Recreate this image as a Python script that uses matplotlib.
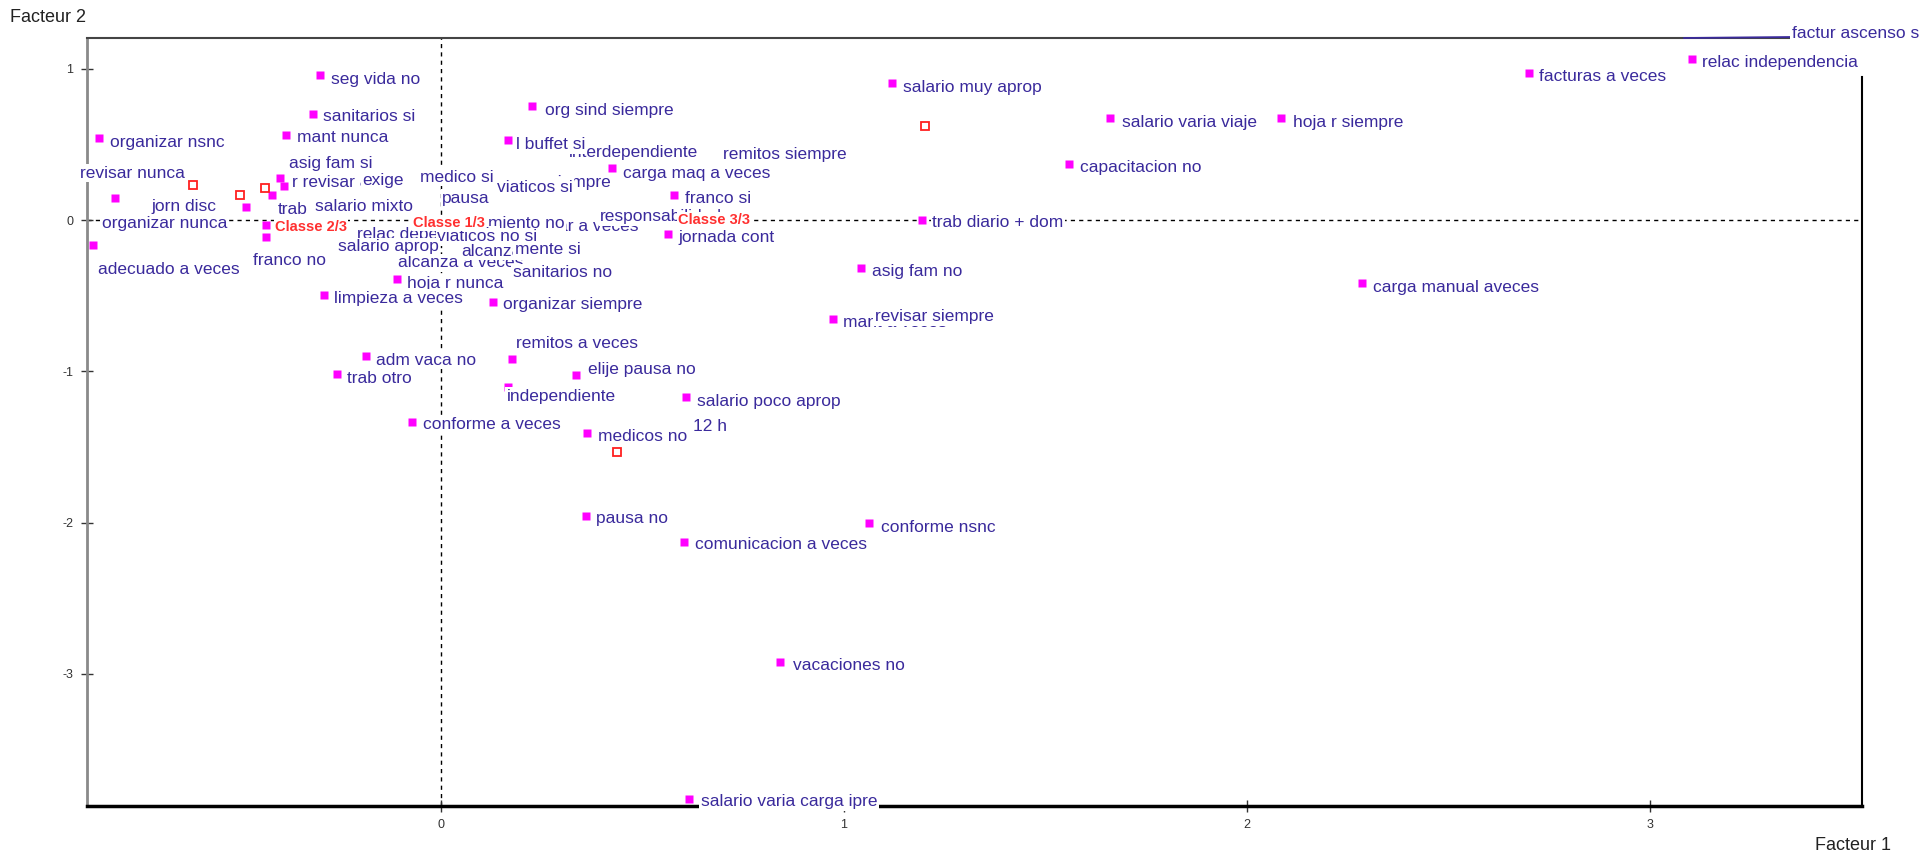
import matplotlib.pyplot as plt

plt.rcParams['font.family'] = ['Liberation Sans', 'DejaVu Sans']

# --- factor coordinates of the modalities ---
labels = ['seg vida no', 'sanitarios si', 'mant nunca', 'organizar nsnc', 'revisar nunca',
          'jorn disc', 'organizar nunca', 'adecuado a veces', 'franco no', 'asig fam si',
          'r revisar a', 'trab', 'salario mixto', 'exige', 'medico si', 'pausa', 'siempre',
          'viaticos si', 'carga maq a veces', 'interdependiente', 'remitos siempre',
          'l buffet si', 'org sind siempre', 'franco si', 'jornada cont', 'ar a veces',
          'responsabilidad', 'miento no', 'alcanza a veces', 'relac dependencia',
          'viaticos no si', 'salario aprop', 'alcanza', 'mente si', 'sanitarios no',
          'hoja r nunca', 'limpieza a veces', 'organizar siempre', 'mant a veces',
          'revisar siempre', 'adm vaca no', 'trab otro', 'remitos a veces', 'independiente',
          'elije pausa no', 'conforme a veces', '12 h', 'medicos no', 'salario poco aprop',
          'pausa no', 'comunicacion a veces', 'conforme nsnc', 'vacaciones no',
          'salario varia carga ipre', 'salario muy aprop', 'salario varia viaje',
          'hoja r siempre', 'capacitacion no', 'trab diario + dom', 'asig fam no',
          'carga manual aveces', 'facturas a veces', 'relac independencia']
facteur1 = [-0.299, -0.316, -0.383, -0.847, -0.808, -0.483, -0.433, -0.862, -0.433, -0.398,
            -0.388, -0.418, -0.262, -0.145, -0.001, 0.053, 0.319, 0.190, 0.425, 0.368,
            0.750, 0.167, 0.227, 0.579, 0.564, 0.341, 0.445, 0.167, -0.056, -0.158,
            0.041, -0.205, 0.102, 0.234, 0.229, -0.108, -0.288, 0.129, 0.974, 1.127,
            -0.185, -0.257, 0.177, 0.167, 0.335, -0.072, 0.675, 0.363, 0.608, 0.361,
            0.605, 1.064, 0.841, 0.616, 1.120, 1.661, 2.084, 1.559, 1.194, 1.043,
            2.285, 2.700, 3.104]
facteur2 = [0.958, 0.701, 0.562, 0.542, 0.145, 0.086, -0.033, -0.165, -0.112, 0.278,
            0.225, 0.165, 0.086, 0.264, 0.284, 0.145, 0.245, 0.218, 0.343, 0.449,
            0.436, 0.529, 0.753, 0.165, -0.093, -0.040, 0.020, -0.020, -0.284, -0.099,
            -0.112, -0.178, -0.205, -0.198, -0.350, -0.390, -0.496, -0.542, -0.654, -0.641,
            -0.899, -1.018, -0.919, -1.104, -1.024, -1.335, -1.368, -1.408, -1.170, -1.956,
            -2.126, -2.005, -2.919, -3.827, 0.905, 0.674, 0.674, 0.370, 0.0, -0.317,
            -0.418, 0.970, 1.062]

# supplementary points (red hollow squares)
sup_f1 = [-0.614, -0.497, -0.436, 1.202, 0.438]
sup_f2 = [0.231, 0.165, 0.211, 0.621, -1.533]

# class centres
classes = ['Classe 1/3', 'Classe 2/3', 'Classe 3/3']
class_f1 = [-0.068, -0.411, 0.589]
class_f2 = [-0.020, -0.046, 0.0]

# point outside the frame, shown with a leader line
out_label = 'factur ascenso si'
out_f1, out_f2 = 3.084, 1.203

# label placement (pixels: right, down); default is (10, 4)
offsets = {
    'seg vida no': (11, 4), 'sanitarios si': (10, 3), 'mant nunca': (11, 3),
    'organizar nsnc': (11, 4), 'revisar nunca': (-35, -25), 'jorn disc': (-94, 0),
    'organizar nunca': (-164, -1), 'adecuado a veces': (5, 25), 'franco no': (-13, 24),
    'asig fam si': (9, -14), 'r revisar a': (8, -3), 'trab': (6, 14),
    'carga maq a veces': (11, 5), 'l buffet si': (8, 5), 'org sind siempre': (13, 4),
    'franco si': (11, 3), 'jornada cont': (11, 3), 'limpieza a veces': (10, 3),
    'organizar siempre': (10, 2), 'remitos a veces': (4, -16), 'independiente': (-1, 9),
    'elije pausa no': (12, -5), 'conforme a veces': (11, 3), 'medicos no': (11, 3),
    'salario poco aprop': (11, 4), 'pausa no': (10, 3), 'comunicacion a veces': (11, 3),
    'conforme nsnc': (12, 4), 'vacaciones no': (13, 4), 'salario varia carga ipre': (12, 3),
    'salario muy aprop': (11, 4), 'salario varia viaje': (12, 4), 'hoja r siempre': (12, 4),
    'capacitacion no': (11, 3), 'trab diario + dom': (10, 2), 'asig fam no': (11, 4),
    'carga manual aveces': (11, 4), 'facturas a veces': (10, 3), 'relac independencia': (10, 3),
}
# labels whose marker sits under the label itself
hidden = ['salario mixto', 'exige', 'medico si', 'pausa', 'siempre', 'viaticos si',
          'interdependiente', 'remitos siempre', 'ar a veces', 'responsabilidad', 'miento no',
          'alcanza a veces', 'relac dependencia', 'viaticos no si', 'salario aprop', 'alcanza',
          'mente si', 'sanitarios no', 'revisar siempre', '12 h']

TXT = '#3a2a9c'
MAG = '#ff00ff'
box = dict(boxstyle='square,pad=0.08', fc='white', ec='none')

fig = plt.figure(figsize=(19.19, 8.56), dpi=100)
ax = fig.add_axes([87/1919, 1 - 805.5/856, (1862-87)/1919, (805.5-38)/856])
ax.set_xlim(-0.877, 3.526)
ax.set_ylim(-3.870, 1.203)

ax.axhline(0, color='black', lw=1, ls=(0, (3, 3)), zorder=1)
ax.axvline(0, color='black', lw=1, ls=(0, (3, 3)), zorder=1)

ax.plot(facteur1, facteur2, 's', color=MAG, ms=5.5, mec='none', zorder=2)
ax.plot(sup_f1, sup_f2, 's', mfc='white', mec='#ff2020', mew=1.3, ms=6, zorder=2)

for lab, x, y in zip(labels, facteur1, facteur2):
    dx, dy = (-20, 0) if lab in hidden else offsets.get(lab, (10, 4))
    ax.annotate(lab, (x, y), xytext=(dx, -dy), textcoords='offset pixels',
                ha='left', va='center', fontsize=12.5, color=TXT, bbox=box, zorder=3)

ax.annotate(out_label, (out_f1, out_f2), xytext=(108, 4), textcoords='offset pixels',
            ha='left', va='center', fontsize=12.5, color=TXT, bbox=box, zorder=3,
            annotation_clip=False,
            arrowprops=dict(arrowstyle='-', color=TXT, lw=1.3, shrinkA=0, shrinkB=0,
                            relpos=(0, 0.3)))

for name, x, y in zip(classes, class_f1, class_f2):
    ax.text(x, y, name, ha='left', va='center', fontsize=10.5, fontweight='bold',
            color='#ff3030', bbox=box, zorder=4)

ax.spines['left'].set_color('#8a8a8a')
ax.spines['left'].set_linewidth(2)
ax.spines['bottom'].set_color('black')
ax.spines['bottom'].set_linewidth(2.5)
ax.spines['top'].set_color('#444444')
ax.spines['top'].set_linewidth(1.5)
ax.spines['right'].set_color('black')
ax.spines['right'].set_linewidth(1.5)
ax.spines['right'].set_bounds(-3.870, 0.945)

ax.set_xticks([0, 1, 2, 3])
ax.set_yticks([1, 0, -1, -2, -3])
ax.set_xticklabels(['0', '1', '2', '3'])
ax.set_yticklabels(['1', '0', '-1', '-2', '-3'])
ax.tick_params(direction='inout', length=8, width=1, colors='#333333',
               labelsize=9, pad=6)

fig.text(10/1919, 1 - 18/856, 'Facteur 2', ha='left', va='center', fontsize=13, color='#222222')
fig.text(1891/1919, 1 - 846/856, 'Facteur 1', ha='right', va='center', fontsize=13, color='#222222')

plt.savefig('out.png', dpi=100)
